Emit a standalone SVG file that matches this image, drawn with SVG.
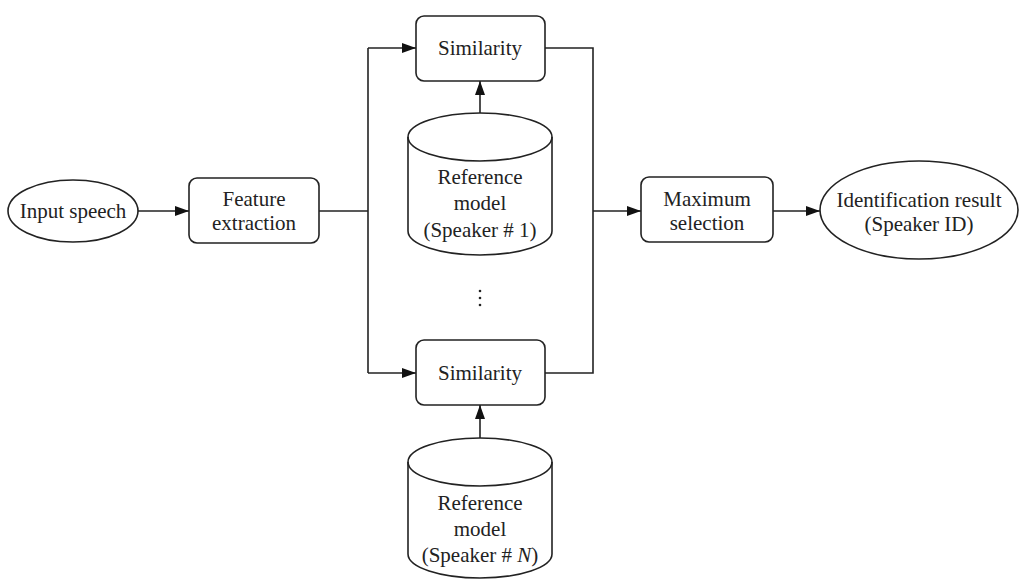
<svg xmlns="http://www.w3.org/2000/svg" width="1023" height="579" viewBox="0 0 1023 579" font-family="'Liberation Serif', 'Times New Roman', 'DejaVu Serif', serif">
<style>
.s{fill:#fff;stroke:#222;stroke-width:1.6}
.c{fill:none;stroke:#222;stroke-width:1.6}
.t{font-family:'Liberation Serif','Times New Roman','DejaVu Serif',serif;font-size:21px;fill:#222;text-anchor:middle}
</style>
<defs>
<marker id="a" viewBox="0 0 14 10" refX="14" refY="5" markerWidth="14" markerHeight="10" markerUnits="userSpaceOnUse" orient="auto">
<path d="M0,0 L14,5 L0,10 Z" fill="#111"/>
</marker>
</defs>
<rect width="1023" height="579" fill="#fff"/>
<g id="connectors">
<path class="c" d="M138,211 H189" marker-end="url(#a)"/>
<path class="c" d="M319,211 H368"/>
<path class="c" d="M368,48 V373"/>
<path class="c" d="M368,48 H416" marker-end="url(#a)"/>
<path class="c" d="M368,373 H416" marker-end="url(#a)"/>
<path class="c" d="M545,48 H593 V373 H545"/>
<path class="c" d="M593,211 H641" marker-end="url(#a)"/>
<path class="c" d="M773,211 H820" marker-end="url(#a)"/>
<path class="c" d="M480,113 V81" marker-end="url(#a)"/>
<path class="c" d="M480,438 V405" marker-end="url(#a)"/>
</g>
<g class="t">
<g id="input">
<ellipse class="s" cx="73" cy="211" rx="65" ry="31"/>
<text class="t" x="73" y="218">Input speech</text>
</g>
<g id="feature">
<rect class="s" x="189" y="178" width="130" height="65" rx="8"/>
<text class="t" x="254" y="206">Feature</text>
<text class="t" x="254" y="230">extraction</text>
</g>
<g id="sim1">
<rect class="s" x="416" y="16" width="129" height="65" rx="8"/>
<text class="t" x="480" y="55">Similarity</text>
</g>
<g id="ref1">
<path class="s" d="M408,137 V231 A72,24 0 0 0 552,231 V137 A72,24 0 0 0 408,137 Z"/>
<path class="c" d="M408,137 A72,24 0 0 0 552,137"/>
<text class="t" x="480" y="184">Reference</text>
<text class="t" x="480" y="210">model</text>
<text class="t" x="480" y="237">(Speaker # 1)</text>
</g>
<g id="dots">
<circle cx="480" cy="291" r="1.3" fill="#222"/>
<circle cx="480" cy="298" r="1.3" fill="#222"/>
<circle cx="480" cy="305" r="1.3" fill="#222"/>
</g>
<g id="simN">
<rect class="s" x="416" y="340" width="129" height="65" rx="8"/>
<text class="t" x="480" y="380">Similarity</text>
</g>
<g id="refN">
<path class="s" d="M408,462 V554 A72,24 0 0 0 552,554 V462 A72,24 0 0 0 408,462 Z"/>
<path class="c" d="M408,462 A72,24 0 0 0 552,462"/>
<text class="t" x="480" y="510">Reference</text>
<text class="t" x="480" y="536">model</text>
<text class="t" x="480" y="562">(Speaker # <tspan font-style="italic">N</tspan>)</text>
</g>
<g id="max">
<rect class="s" x="641" y="177" width="132" height="65" rx="8"/>
<text class="t" x="707" y="206">Maximum</text>
<text class="t" x="707" y="230">selection</text>
</g>
<g id="result">
<ellipse class="s" cx="919" cy="210" rx="99" ry="49"/>
<text class="t" x="919" y="207">Identification result</text>
<text class="t" x="919" y="231">(Speaker ID)</text>
</g>
</g>
</svg>
